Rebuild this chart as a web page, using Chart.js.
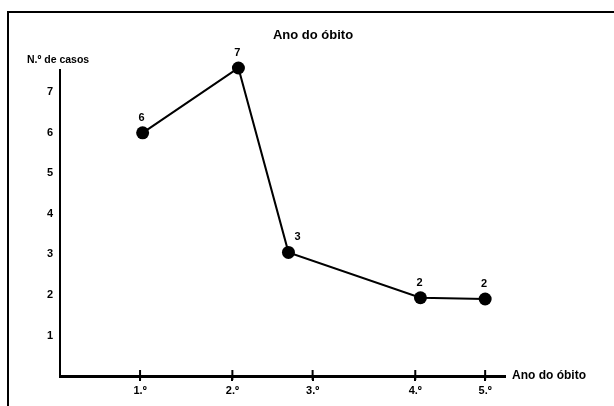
<!DOCTYPE html>
<html>
<head>
<meta charset="utf-8">
<script src="https://cdn.jsdelivr.net/npm/chart.js@4"></script>
<style>
  body { margin: 0; background: #fff; }
</style>
</head>
<body>
<canvas id="grafico" width="614" height="406"></canvas>
<script>
// valores
const anosLabels = ['1.º', '2.º', '3.º', '4.º', '5.º'];
const anosPos = [1, 2.07, 3, 4.19, 5];          // onde caem as marcas do eixo x
const pontosX = [1.03, 2.14, 2.72, 4.25, 5];     // posição de cada ponto no eixo x
const pontosY = [6.0, 7.6, 3.05, 1.93, 1.9];     // altura desenhada de cada ponto
const casos = [6, 7, 3, 2, 2];                   // números escritos sobre os pontos
const yTicks = [1, 2, 3, 4, 5, 6, 7];

Chart.defaults.font.family = "'Liberation Sans', Arial, sans-serif";
Chart.defaults.color = '#000';

// moldura, títulos e rótulos dos pontos
const textos = {
    id: 'textos',
    beforeDraw(chart) {
        const ctx = chart.ctx;
        ctx.save();
        ctx.fillStyle = '#fff';
        ctx.fillRect(0, 0, chart.width, chart.height);
        ctx.strokeStyle = '#000';
        ctx.lineWidth = 2;
        ctx.beginPath();
        ctx.moveTo(8, chart.height);
        ctx.lineTo(8, 12);
        ctx.lineTo(chart.width, 12);
        ctx.stroke();
        ctx.restore();
    },
    afterDraw(chart) {
        const ctx = chart.ctx;
        const area = chart.chartArea;
        ctx.save();
        ctx.fillStyle = '#000';
        ctx.textBaseline = 'middle';

        ctx.font = "bold 13px 'Liberation Sans', Arial, sans-serif";
        ctx.textAlign = 'center';
        ctx.fillText('Ano do óbito', 313, 35);

        ctx.font = "bold 10.5px 'Liberation Sans', Arial, sans-serif";
        ctx.textAlign = 'left';
        ctx.fillText('N.º de casos', area.left - 33, area.top - 10);

        ctx.font = "bold 12px 'Liberation Sans', Arial, sans-serif";
        ctx.fillText('Ano do óbito', area.right + 7, area.bottom);

        // marcas do eixo x atravessando a linha
        const x = chart.scales.x;
        ctx.strokeStyle = '#000';
        ctx.lineWidth = 2;
        anosPos.forEach(v => {
            const px = x.getPixelForValue(v);
            ctx.beginPath();
            ctx.moveTo(px, area.bottom - 6);
            ctx.lineTo(px, area.bottom + 4);
            ctx.stroke();
        });

        const meta = chart.getDatasetMeta(0);
        ctx.font = "bold 11px 'Liberation Sans', Arial, sans-serif";
        ctx.textAlign = 'center';
        meta.data.forEach((pt, i) => {
            const dx = (i === 2) ? 9 : -1;
            ctx.fillText(String(casos[i]), pt.x + dx, pt.y - 15);
        });
        ctx.restore();
    }
};

const ctx = document.getElementById('grafico').getContext('2d');
new Chart(ctx, {
    type: 'line',
    data: {
        datasets: [{
            label: 'N.º de casos',
            data: pontosX.map((x, i) => ({ x: x, y: pontosY[i] })),
            borderColor: '#000',
            borderWidth: 2,
            backgroundColor: '#000',
            pointRadius: 6.5,
            pointBackgroundColor: '#000',
            pointBorderWidth: 0,
            tension: 0,
            clip: false
        }]
    },
    options: {
        responsive: false,
        animation: false,
        devicePixelRatio: 1,
        layout: { padding: { left: 30, right: 109, top: 70, bottom: 0 } },
        plugins: {
            legend: { display: false },
            title: { display: false },
            tooltip: { enabled: false }
        },
        scales: {
            x: {
                type: 'linear',
                min: 0.072,
                max: 5.23,
                afterBuildTicks: (scale) => {
                    scale.ticks = anosPos.map(v => ({ value: v }));
                },
                afterFit: (scale) => { scale.height = 30; },
                ticks: {
                    autoSkip: false,
                    maxRotation: 0,
                    padding: 3,
                    font: { size: 11, weight: 'bold' },
                    callback: (value, index) => anosLabels[index]
                },
                grid: {
                    display: true,
                    drawOnChartArea: false,
                    drawTicks: true,
                    tickLength: 5,
                    color: '#000',
                    lineWidth: 2
                },
                border: { display: true, color: '#000', width: 3 }
            },
            y: {
                min: 0,
                max: 7.55,
                afterBuildTicks: (scale) => {
                    scale.ticks = yTicks.map(v => ({ value: v }));
                },
                afterFit: (scale) => { scale.width = 30; },
                ticks: {
                    padding: 7,
                    font: { size: 11, weight: 'bold' }
                },
                grid: { display: false, drawTicks: false },
                border: { display: true, color: '#000', width: 2 }
            }
        }
    },
    plugins: [textos]
});
</script>
</body>
</html>
